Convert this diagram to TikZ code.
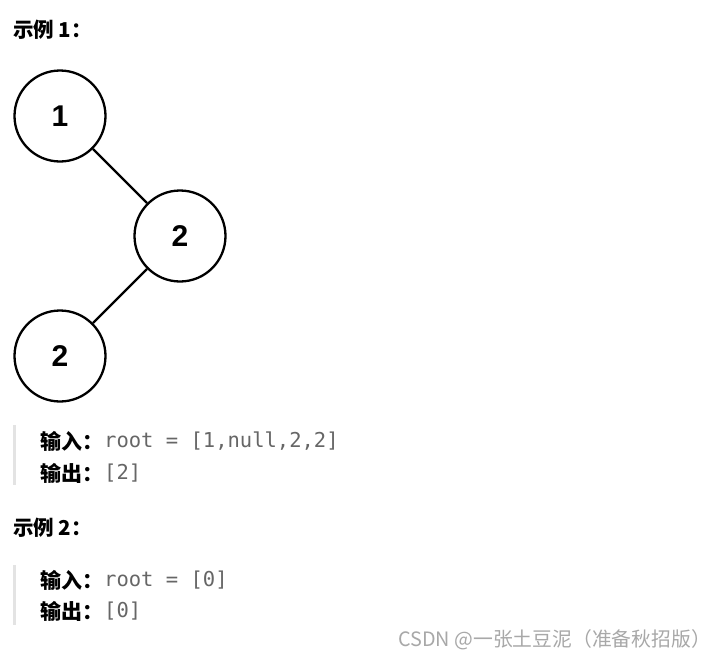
\documentclass[tikz,border=0pt]{standalone}
\usepackage{fontspec}
\usepackage{tikz}
\usetikzlibrary{positioning}
\usepackage{xcolor}
\newfontfamily\cjk{Noto Sans CJK SC}
\newfontfamily\codefont{DejaVu Sans Mono}
\newfontfamily\digitfont{Liberation Sans}
\definecolor{codegray}{HTML}{666666}
\definecolor{bargray}{HTML}{E3E3E3}
\definecolor{markgray}{HTML}{A8A8A8}

\begin{document}
\begin{tikzpicture}[x=1pt, y=-1pt,
    treenode/.style={draw, circle, line width=2.3pt, inner sep=0pt, minimum size=91pt,
      font=\digitfont\bfseries\fontsize{30}{30}\selectfont},
    title/.style={anchor=west, inner sep=0pt, font=\cjk\bfseries\fontsize{20.5}{20.5}\selectfont},
    label/.style={anchor=west, inner sep=0pt, font=\cjk\bfseries\fontsize{21}{21}\selectfont},
    code/.style={anchor=west, inner sep=0pt, text=codegray, font=\codefont\fontsize{20.5}{20.5}\selectfont},
    quotebar/.style={fill=bargray, draw=none}]
  \useasboundingbox[fill=white] (0,0) rectangle (713,659);

  % Titles
  \node[title] (t1) at (13,30) {示例 1：};
  \node[title] (t2) at (13,528) {示例 2：};

  % Nodes
  \node[treenode] (a) at (60,116) {1};
  \node[treenode] (b) at (180,236) {2};
  \node[treenode] (c) at (60,356) {2};

  % Edges
  \draw[line width=2.3pt] (a) -- (b);
  \draw[line width=2.3pt] (b) -- (c);

  % Example 1
  \fill[quotebar] (13,425) rectangle (16,485);
  \node[label] (in1) at (40,441) {输入：};
  \node[code] (root1) at (104,441) {root = [1,null,2,2]};
  \node[label] (out1) at (40,473) {输出：};
  \node[code] (ans1) at (104,473) {[2]};

  % Example 2
  \fill[quotebar] (13,565) rectangle (16,625);
  \node[label] (in2) at (40,580) {输入：};
  \node[code] (root2) at (104,580) {root = [0]};
  \node[label] (out2) at (40,611) {输出：};
  \node[code] (ans2) at (104,611) {[0]};

  % Watermark
  \node[anchor=west, inner sep=0pt, text=markgray, font=\cjk\fontsize{19.8}{19.8}\selectfont] (mark) at (398,640) {CSDN @一张土豆泥（准备秋招版）};
\end{tikzpicture}
\end{document}
